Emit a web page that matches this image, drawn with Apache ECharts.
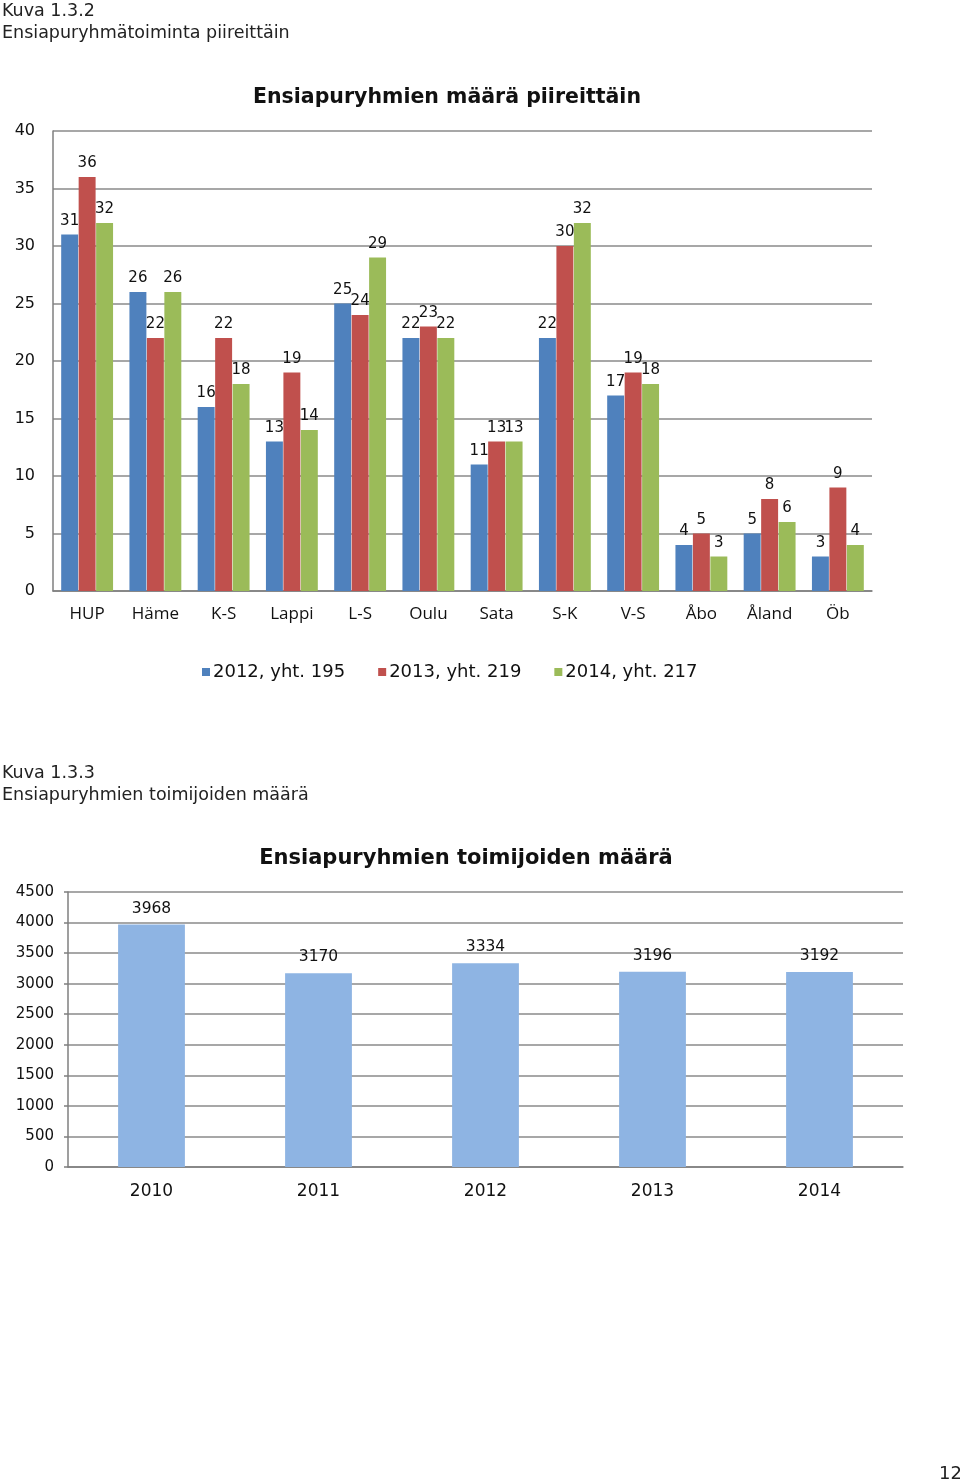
<!DOCTYPE html>
<html>
<head>
<meta charset="utf-8">
<script src="https://cdn.jsdelivr.net/npm/echarts@6/dist/echarts.min.js"></script>
<style>
html,body{margin:0;padding:0;background:#fff;}
#main{width:960px;height:1484px;}
</style>
</head>
<body>
<div id="main"></div>
<script>
// Chart 1 data
var districts = ['HUP','Häme','K-S','Lappi','L-S','Oulu','Sata','S-K','V-S','Åbo','Åland','Öb'];
var groups2012 = [31,26,16,13,25,22,11,22,17,4,5,3];
var groups2013 = [36,22,22,19,24,23,13,30,19,5,8,9];
var groups2014 = [32,26,18,14,29,22,13,32,18,3,6,4];
var seriesNames1 = ['2012, yht. 195','2013, yht. 219','2014, yht. 217'];
var yTicks1 = {min:0, max:40, interval:5};

// Chart 2 data
var years = ['2010','2011','2012','2013','2014'];
var members = [3968,3170,3334,3196,3192];
var yTicks2 = {min:0, max:4500, interval:500};

var FONT = 'DejaVu Sans';
var gridColor = '#8a8a8a';

var chart = echarts.init(document.getElementById('main'), null, {renderer:'canvas'});

function barSeries(name, data, color){
  return {
    name: name, type: 'bar', xAxisIndex: 0, yAxisIndex: 0,
    data: data, barGap: '3%', barCategoryGap: '24%',
    itemStyle: {color: color},
    label: {show:true, position:'top', distance:6, color:'#111', fontFamily:FONT, fontSize:15},
    emphasis: {disabled:true}, animation:false
  };
}

var capStyle = {fontFamily:FONT, fontSize:17.5, fontWeight:'normal', color:'#222'};

var option = {
  animation: false,
  backgroundColor: '#fff',
  title: [
    {text:'Kuva 1.3.2', left:2, top:2, padding:0, textStyle:capStyle},
    {text:'Ensiapuryhmätoiminta piireittäin', left:2, top:24, padding:0, textStyle:capStyle},
    {text:'Ensiapuryhmien määrä piireittäin', left:447, textAlign:'center', top:87, padding:0, textStyle:{fontFamily:FONT, fontSize:20.5, fontWeight:'bold', color:'#111'}},
    {text:'Kuva 1.3.3', left:2, top:764, padding:0, textStyle:capStyle},
    {text:'Ensiapuryhmien toimijoiden määrä', left:2, top:786, padding:0, textStyle:capStyle},
    {text:'Ensiapuryhmien toimijoiden määrä', left:466, textAlign:'center', top:848, padding:0, textStyle:{fontFamily:FONT, fontSize:21, fontWeight:'bold', color:'#111'}},
    {text:'12', right:-2, top:1465, padding:0, textStyle:{fontFamily:FONT, fontSize:18, fontWeight:'normal', color:'#222'}}
  ],
  legend: {
    data: seriesNames1,
    left: 202, top: 663, padding: 0,
    itemWidth: 8, itemHeight: 8, itemGap: 33,
    icon: 'rect',
    textStyle: {fontFamily:FONT, fontSize:18, color:'#111', padding:[0,0,0,-2]},
    selectedMode: false
  },
  grid: [
    {left:53, top:131, width:819, height:460, containLabel:false},
    {left:68, top:892, width:835, height:275, containLabel:false}
  ],
  xAxis: [
    {type:'category', gridIndex:0, data:districts,
     axisLine:{show:true, lineStyle:{color:'#7f7f7f', width:1.5}},
     axisTick:{show:false},
     axisLabel:{fontFamily:'Open Sans', fontSize:17, color:'#111', margin:15}},
    {type:'category', gridIndex:1, data:years,
     axisLine:{show:true, lineStyle:{color:'#7f7f7f', width:1.5}},
     axisTick:{show:false},
     axisLabel:{fontFamily:FONT, fontSize:17, color:'#111', margin:16}}
  ],
  yAxis: [
    {type:'value', gridIndex:0, min:yTicks1.min, max:yTicks1.max, interval:yTicks1.interval,
     axisLine:{show:true, lineStyle:{color:'#7f7f7f', width:1.5}},
     axisTick:{show:false},
     splitLine:{show:true, lineStyle:{color:gridColor, width:1.5}},
     axisLabel:{fontFamily:FONT, fontSize:16, color:'#111', margin:18}},
    {type:'value', gridIndex:1, min:yTicks2.min, max:yTicks2.max, interval:yTicks2.interval,
     axisLine:{show:true, lineStyle:{color:'#7f7f7f', width:1.5}},
     axisTick:{show:true, length:4, lineStyle:{color:'#7f7f7f', width:1.5}},
     splitLine:{show:true, lineStyle:{color:gridColor, width:1.5}},
     axisLabel:{fontFamily:FONT, fontSize:15, color:'#111', margin:14, formatter:function(v){return String(v);}}}
  ],
  series: [
    barSeries(seriesNames1[0], groups2012, '#4F81BD'),
    barSeries(seriesNames1[1], groups2013, '#C0504D'),
    barSeries(seriesNames1[2], groups2014, '#9BBB59'),
    {
      name:'Toimijat', type:'bar', xAxisIndex:1, yAxisIndex:1,
      data: members, barWidth:'40%',
      itemStyle:{color:'#8EB4E3'},
      label:{show:true, position:'top', distance:8, color:'#111', fontFamily:FONT, fontSize:15.5},
      emphasis:{disabled:true}
    }
  ]
};
chart.setOption(option);
</script>
</body>
</html>
